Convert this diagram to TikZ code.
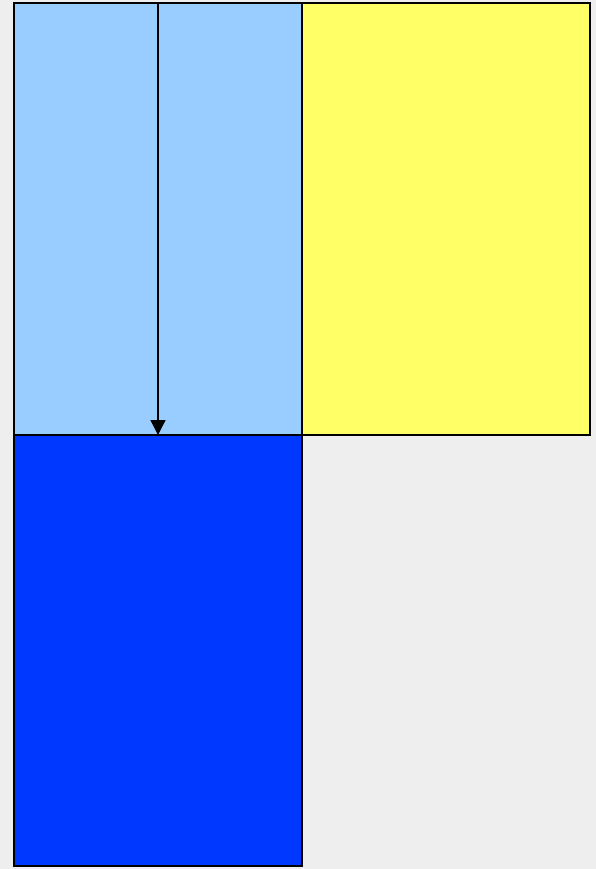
\documentclass[tikz,border=0pt]{standalone}
\usetikzlibrary{arrows.meta}
\definecolor{bg}{HTML}{EEEEEE}
\definecolor{lightblue}{HTML}{99CCFF}
\definecolor{lemon}{HTML}{FFFF66}
\definecolor{deepblue}{HTML}{0038FF}
\begin{document}
\begin{tikzpicture}[x=1pt,y=-1pt,
  cell/.style={draw=black,line width=1.6pt,inner sep=0pt,outer sep=0pt,minimum width=288pt,minimum height=432pt,anchor=north west},
  arr/.style={draw=black,line width=1.4pt,-{Triangle[length=15pt,width=15pt]}}]
\fill[bg] (0,0) rectangle (596,869);
\useasboundingbox (0,0) rectangle (596,869);
\node[cell,fill=lightblue] (lb) at (14,3) {};
\node[cell,fill=lemon] (ye) at (302,3) {};
\node[cell,fill=deepblue,minimum height=431pt] (db) at (14,435) {};
\coordinate (s) at (158,3);
\draw[arr] (s) -- (s |- lb.south);
\end{tikzpicture}
\end{document}
